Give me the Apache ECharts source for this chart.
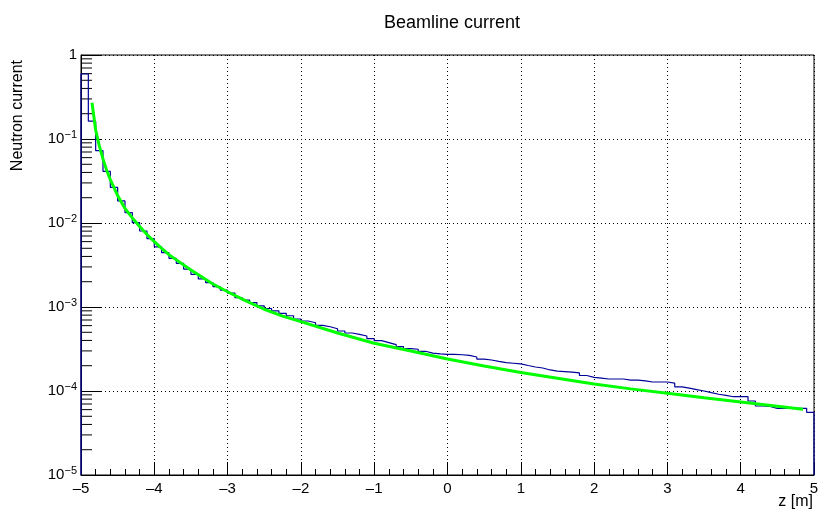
<!DOCTYPE html>
<html>
<head>
<meta charset="utf-8">
<script src="https://cdn.jsdelivr.net/npm/echarts@6/dist/echarts.min.js"></script>
<style>
html,body{margin:0;padding:0;background:#fff;}
#chart{width:821px;height:517px;}
</style>
</head>
<body>
<div id="chart"></div>
<script>
// ---- data ----
var title = 'Beamline current';
var xName = 'z [m]';
var yName = 'Neutron current';
var xMin = -5, xMax = 5;
var yMin = 1e-5, yMax = 1;
var xTickLabels = ['–5','–4','–3','–2','–1','0','1','2','3','4','5'];
// histogram: 100 bins of width 0.1 from -5 to 5
var histValues = [
  0.594, 0.163, 0.0726, 0.0412, 0.0266, 0.0183, 0.0133, 0.0101, 0.00803, 0.0065,
  0.0052, 0.00443, 0.0038, 0.00331, 0.00283, 0.00245, 0.00216, 0.00195, 0.00175, 0.00159,
  0.00146, 0.00129, 0.00121, 0.00113, 0.00103, 0.00096, 0.00090, 0.00084, 0.000787, 0.00072,
  0.000681, 0.00065, 0.000605, 0.000582, 0.000551, 0.000518, 0.00049, 0.000473, 0.000452, 0.00042,
  0.000397, 0.000376, 0.000356, 0.000337, 0.000319, 0.000314, 0.000297, 0.000283, 0.000276, 0.000273,
  0.000273, 0.00027, 0.000265, 0.000254, 0.00024, 0.000234, 0.000225, 0.000218, 0.000214, 0.00021,
  0.000201, 0.000193, 0.000188, 0.000178, 0.000172, 0.00017, 0.000168, 0.000164, 0.000153, 0.000145,
  0.000142, 0.000139, 0.000139, 0.000139, 0.000135, 0.000135, 0.000132, 0.000128, 0.000128, 0.000128,
  0.000124, 0.000112, 0.000108, 0.000104, 0.0001, 0.0000955, 0.0000914, 0.0000889, 0.0000855, 0.0000855,
  0.0000855, 0.000076, 0.0000663, 0.0000655, 0.0000622, 0.0000622, 0.0000622, 0.0000622, 0.0000622, 0.0000557
];
// fitted curve
var fitX = [-4.85, -4.8, -4.75, -4.7, -4.65, -4.6, -4.5, -4.4, -4.3, -4.2, -4.1, -4.0, -3.9, -3.8, -3.65, -3.5, -3.35, -3.2, -3.0, -2.75, -2.5, -2.25, -2.0, -1.5, -1.0, -0.5, 0, 0.5, 1, 1.5, 2, 2.5, 3, 3.5, 4, 4.5, 4.85];
var fitY = [0.27, 0.128, 0.083, 0.058, 0.0425, 0.0328, 0.0212, 0.0149, 0.0115, 0.0091, 0.0073, 0.0060, 0.0050, 0.0042, 0.0034, 0.00275, 0.00228, 0.00188, 0.00152, 0.00118, 0.00094, 0.00078, 0.00067, 0.00049, 0.00037, 0.00030, 0.00024, 0.000198, 0.000166, 0.000142, 0.000121, 0.000106, 0.000094, 0.000083, 0.000074, 0.000066, 0.0000605];

// ---- build series data ----
var nBins = histValues.length;
var binWidth = (xMax - xMin) / nBins;
var histData = [[xMin, yMin]];
for (var i = 0; i < nBins; i++) {
  histData.push([Math.round((xMin + i * binWidth) * 1000) / 1000, histValues[i]]);
}
histData.push([xMax, histValues[nBins - 1]]);
histData.push([xMax, yMin]);
var fitData = fitX.map(function (x, i) { return [x, fitY[i]]; });

// log minor ticks (2..9 x 10^n)
var minorTicks = [];
for (var e = -5; e < 0; e++) {
  for (var m = 2; m <= 9; m++) minorTicks.push(m * Math.pow(10, e));
}

var chart = echarts.init(document.getElementById('chart'), null, {renderer: 'canvas'});
var font = 'Liberation Sans, Arial, Helvetica, sans-serif';
chart.setOption({
  animation: false,
  backgroundColor: '#fff',
  title: {
    text: title, left: 447, top: 9, textAlign: 'center',
    textStyle: {fontFamily: font, fontSize: 18, fontWeight: 'normal', color: '#000'}
  },
  graphic: [
    {type: 'text', x: 813, y: 502, silent: true,
     style: {text: xName, fontFamily: font, fontSize: 16, fill: '#000', align: 'right', verticalAlign: 'middle'}},
    {type: 'text', x: 18, y: 60, rotation: Math.PI / 2, silent: true,
     style: {text: yName, fontFamily: font, fontSize: 16, fill: '#000', align: 'right', verticalAlign: 'middle'}}
  ],
  grid: {left: 81, right: 7, top: 55, bottom: 42, show: true, borderColor: '#000', borderWidth: 1, backgroundColor: 'transparent', containLabel: false, outerBoundsMode: 'none'},
  xAxis: {
    type: 'value', min: xMin, max: xMax, interval: 1,
    axisLine: {show: true, onZero: false, lineStyle: {color: '#000', width: 1}},
    axisTick: {show: true, inside: true, length: 13, lineStyle: {color: '#000'}},
    minorTick: {show: true, splitNumber: 5, length: 6, lineStyle: {color: '#000'}},
    splitLine: {show: true, lineStyle: {color: '#000', type: [1, 3], width: 1}},
    axisLabel: {
      fontFamily: font, fontSize: 15, color: '#000', margin: 6,
      formatter: function (v) { return xTickLabels[Math.round(v - xMin)]; }
    }
  },
  yAxis: {
    type: 'log', logBase: 10, min: yMin, max: yMax,
    axisLine: {show: true, onZero: false, lineStyle: {color: '#000', width: 1}},
    axisTick: {show: true, inside: true, length: 21, lineStyle: {color: '#000'}},
    splitLine: {show: true, lineStyle: {color: '#000', type: [1, 3], width: 1}},
    axisLabel: {
      margin: 4, color: '#000',
      formatter: function (v) {
        var e = Math.round(Math.log10(v));
        if (e === 0) return '{b|1}';
        return '{b|10}{s|−' + (-e) + '}';
      },
      rich: {
        b: {fontFamily: font, fontSize: 15, color: '#000'},
        s: {fontFamily: font, fontSize: 11, color: '#000', padding: [0, 0, 9, 0]}
      }
    }
  },
  series: [
    {
      type: 'custom', silent: true, clip: false, z: 3,
      data: minorTicks,
      encode: {y: 0},
      renderItem: function (params, api) {
        var p = api.coord([xMin, api.value(0)]);
        return {type: 'line', shape: {x1: p[0], y1: p[1], x2: p[0] + 11, y2: p[1]}, style: {stroke: '#000', lineWidth: 1}};
      }
    },
    {
      type: 'line', step: 'end', data: histData, showSymbol: false, symbol: 'none',
      lineStyle: {color: '#000099', width: 1.2}, z: 4, clip: false
    },
    {
      type: 'line', data: fitData, showSymbol: false, symbol: 'none', smooth: false,
      lineStyle: {color: '#00ff00', width: 3}, z: 5
    }
  ]
});
</script>
</body>
</html>
